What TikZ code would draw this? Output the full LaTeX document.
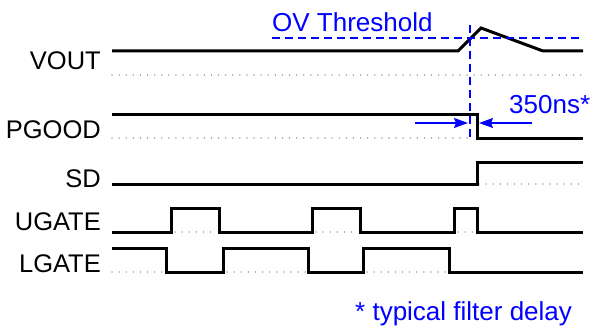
\documentclass[tikz,border=0pt]{standalone}
\usepackage{fontspec}
\setmainfont{Liberation Sans}
\usetikzlibrary{arrows.meta}
\begin{document}
\begin{tikzpicture}[x=1pt,y=-1pt,
 sig/.style={line width=3pt, line join=miter},
 base/.style={gray!70, line width=1.4pt, line cap=round, dash pattern=on 0.1pt off 7pt},
 blu/.style={blue, line width=1.6pt, dash pattern=on 8pt off 5pt},
 barrow/.style={blue, line width=1.6pt, -{Stealth[length=14pt,width=10pt,inset=2pt]}},
 lbl/.style={anchor=base east, font=\fontsize{25.5}{30}\selectfont, inner sep=0pt},
 btxt/.style={anchor=base west, text=blue, font=\fontsize{26}{30}\selectfont, inner sep=0pt}]
\useasboundingbox (0,0) rectangle (593,326);
% labels
\node[lbl] (lvout) at (101,70) {VOUT};
\node[lbl] (lpgood) at (101,138) {PGOOD};
\node[lbl] (lsd) at (101,187) {SD};
\node[lbl] (lugate) at (101,230) {UGATE};
\node[lbl] (llgate) at (101,272) {LGATE};
\node[btxt] (tov) at (272,32) {OV Threshold};
\node[btxt] (tdelay) at (509,113) {350ns*};
\node[btxt] (tnote) at (355,320) {* typical filter delay};
% baselines (dotted)
\draw[base] (112,75) -- (583,75);
\draw[base] (112,138) -- (471,138);
\draw[base] (479,184) -- (583,184);
\draw[base] (175,232) -- (217,232);
\draw[base] (316,232) -- (358,232);
\draw[base] (458,232) -- (475,232);
\draw[base] (112,272) -- (164,272);
\draw[base] (227,272) -- (306,272);
\draw[base] (367,272) -- (447,272);
% signals
\draw[sig] (112,51) -- (458,51) -- (481,28) -- (543,51) -- (583,51);
\draw[sig] (112,114) -- (477,114) -- (477,138) -- (583,138);
\draw[sig] (112,184) -- (477,184) -- (477,162) -- (583,162);
\draw[sig] (112,232) -- (171,232) -- (171,208) -- (219,208) -- (219,232)
  -- (312,232) -- (312,208) -- (360,208) -- (360,232)
  -- (454,232) -- (454,208) -- (477,208) -- (477,232) -- (583,232);
\draw[sig] (112,248) -- (166,248) -- (166,272) -- (223,272) -- (223,248)
  -- (308,248) -- (308,272) -- (363,272) -- (363,248)
  -- (449,248) -- (449,272) -- (583,272);
% threshold and delay markers
\draw[blu] (272,38) -- (583,38);
\draw[blu] (470,25) -- (470,138);
\coordinate (a1s) at (415,123);
\coordinate (a1e) at (468,123);
\coordinate (a2s) at (532,123);
\coordinate (a2e) at (479,123);
\draw[barrow] (a1s) -- (a1e);
\draw[barrow] (a2s) -- (a2e);
\end{tikzpicture}
\end{document}
